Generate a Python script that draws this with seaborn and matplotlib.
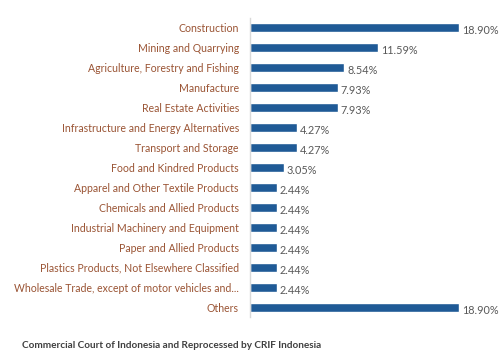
import matplotlib
matplotlib.use("Agg")
import matplotlib.pyplot as plt
import pandas as pd
import seaborn as sns

sectors = [
    "Construction",
    "Mining and Quarrying",
    "Agriculture, Forestry and Fishing",
    "Manufacture",
    "Real Estate Activities",
    "Infrastructure and Energy Alternatives",
    "Transport and Storage",
    "Food and Kindred Products",
    "Apparel and Other Textile Products",
    "Chemicals and Allied Products",
    "Industrial Machinery and Equipment",
    "Paper and Allied Products",
    "Plastics Products, Not Elsewhere Classified",
    "Wholesale Trade, except of motor vehicles and...",
    "Others",
]
shares = [18.90, 11.59, 8.54, 7.93, 7.93, 4.27, 4.27, 3.05,
          2.44, 2.44, 2.44, 2.44, 2.44, 2.44, 18.90]

df = pd.DataFrame({"sector": sectors, "share": shares})

sns.set_style("white")
plt.rcParams["font.family"] = ["Lato", "DejaVu Sans"]

fig = plt.figure(figsize=(4.99, 3.53), dpi=100)
ax = fig.add_axes([250 / 499, 1 - 317 / 353, 245 / 499, 299 / 353])

sns.barplot(data=df, x="share", y="sector", color="#1F5A96", width=0.45,
            saturation=1, ax=ax)

for i, v in enumerate(shares):
    ax.text(v + 0.25, i + 0.15, f"{v:.2f}%", va="center", ha="left",
            fontsize=7.8, color="#595959")

ax.set_xlim(0, 22.15)
ax.set_ylim(14.5, -0.5)
ax.set_xlabel("")
ax.set_ylabel("")
ax.set_xticks([])
ax.tick_params(axis="y", length=0, pad=8, labelsize=7.6, labelcolor="#9A5434")
for s in ["top", "right", "bottom"]:
    ax.spines[s].set_visible(False)
ax.spines["left"].set_color("#D9D9D9")
ax.spines["left"].set_linewidth(1)

fig.text(22 / 499, 1 - 345 / 353,
         "Commercial Court of Indonesia and Reprocessed by CRIF Indonesia",
         fontsize=7.2, fontweight="bold", color="#404040", va="center")

fig.savefig("out.png", dpi=100)
